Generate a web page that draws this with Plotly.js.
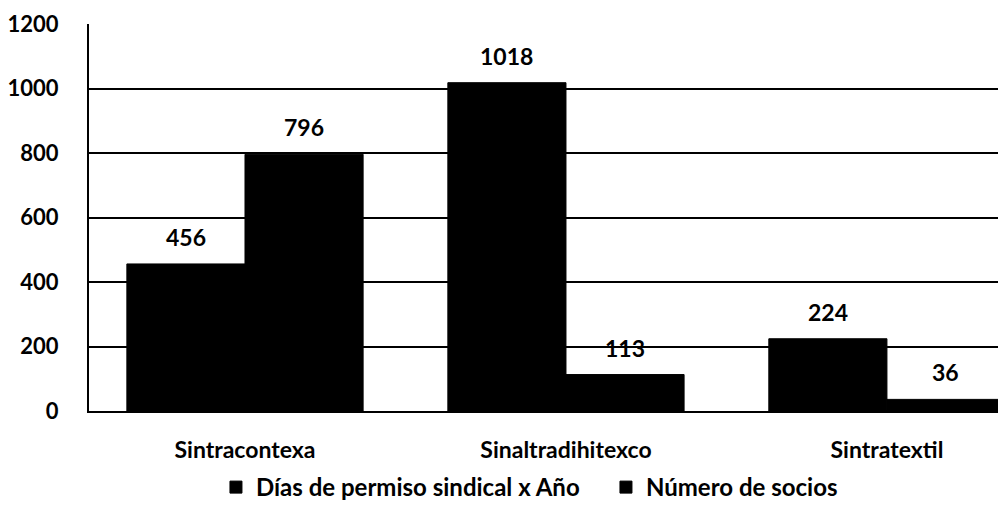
<!DOCTYPE html>
<html>
<head>
<meta charset="utf-8">
<script src="https://cdn.plot.ly/plotly-3.0.1.min.js"></script>
<style>
  html, body { margin: 0; padding: 0; background: #fff; }
  #chart { width: 998px; height: 510px; }
</style>
</head>
<body>
<div id="chart"></div>
<script>
var sindicatos = ['Sintracontexa', 'Sinaltradihitexco', 'Sintratextil'];
var diasPermiso = [456, 1018, 224];
var numeroSocios = [796, 113, 36];
var serieNombres = ['Días de permiso sindical x Año', 'Número de socios'];
var yTicks = [0, 200, 400, 600, 800, 1000, 1200];

var fuente = 'Lato, "Open Sans", sans-serif';

var barras = [diasPermiso, numeroSocios].map((valores, i) => ({
    x: sindicatos,
    y: valores,
    type: 'bar',
    name: serieNombres[i],
    marker: { color: '#000', line: { color: '#000', width: 1 } },
    hoverinfo: 'skip'
}));

// etiquetas encima de cada barra
var etiquetas = [];
[diasPermiso, numeroSocios].forEach((valores, i) => {
    valores.forEach((v, j) => {
        etiquetas.push({
            x: sindicatos[j],
            y: v,
            text: String(v),
            showarrow: false,
            xshift: i === 0 ? -59 : 59,
            yshift: 11,
            yanchor: 'bottom',
            font: { family: fuente, size: 23, color: '#000', weight: 'bold' }
        });
    });
});

var layout = {
    width: 998,
    height: 510,
    margin: { l: 89, r: 0, t: 24, b: 99 },
    paper_bgcolor: '#fff',
    plot_bgcolor: '#fff',
    barmode: 'group',
    bargap: 0.264,
    bargroupgap: 0,
    showlegend: true,
    legend: {
        orientation: 'h',
        xref: 'container',
        yref: 'container',
        x: 0.2164,
        xanchor: 'left',
        y: -0.008,
        yanchor: 'bottom',
        font: { family: fuente, size: 24, color: '#000', weight: 'bold' },
        itemwidth: 30,
        entrywidth: 345,
        traceorder: 'normal'
    },
    xaxis: {
        range: [-0.486, 2.346],
        showgrid: false,
        showline: true,
        linecolor: '#000',
        linewidth: 2,
        ticks: '',
        ticklabelstandoff: 17,
        tickfont: { family: fuente, size: 23, color: '#000', weight: 'bold' },
        fixedrange: true
    },
    yaxis: {
        range: [0, 1200],
        tickvals: yTicks,
        showgrid: true,
        gridcolor: '#000',
        gridwidth: 2,
        showline: true,
        linecolor: '#000',
        linewidth: 2,
        zeroline: false,
        ticks: '',
        ticklabelstandoff: 24,
        tickfont: { family: fuente, size: 22, color: '#000', weight: 'bold' },
        fixedrange: true
    },
    annotations: etiquetas
};

Plotly.newPlot('chart', barras, layout, { displayModeBar: false, staticPlot: true });
</script>
</body>
</html>
